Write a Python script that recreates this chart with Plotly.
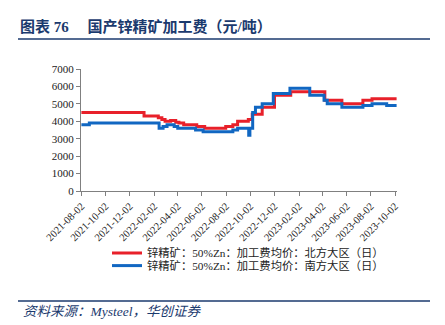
import plotly.graph_objects as go

# Change points of the step series (value holds until the next date)
north_dates = ["2021-08-02", "2022-01-07", "2022-02-12", "2022-02-21", "2022-03-01", "2022-03-15",
               "2022-03-28", "2022-04-05", "2022-04-17", "2022-05-20", "2022-06-09", "2022-08-01",
               "2022-08-19", "2022-08-31", "2022-09-27", "2022-10-07", "2022-11-01", "2022-12-02",
               "2023-01-12", "2023-04-08", "2023-05-21", "2023-07-13", "2023-08-05", "2023-10-06"]
north_vals = [4500, 4300, 4200, 4100, 4000, 4050,
              3950, 3900, 3800, 3700, 3600, 3700,
              3800, 4000, 4100, 4400, 4800, 5500,
              5700, 5200, 5000, 5200, 5300, 5300]

south_dates = ["2021-08-02", "2021-08-22", "2022-02-14", "2022-02-24", "2022-03-06", "2022-03-24",
               "2022-04-02", "2022-05-17", "2022-06-05", "2022-08-19", "2022-08-31", "2022-09-28",
               "2022-10-01", "2022-10-08", "2022-10-15", "2022-11-01", "2022-11-29", "2023-01-10",
               "2023-03-01", "2023-04-06", "2023-04-14", "2023-05-21", "2023-07-13", "2023-08-05",
               "2023-09-11", "2023-10-06"]
south_vals = [3800, 3900, 3600, 3700, 3800, 3700,
              3600, 3500, 3400, 3500, 3600, 3200,
              3600, 4500, 4800, 5000, 5600, 5900,
              5500, 5200, 5000, 4800, 4900, 5000,
              4900, 4900]

tick_dates = ["2021-08-02", "2021-10-02", "2021-12-02", "2022-02-02", "2022-04-02", "2022-06-02",
              "2022-08-02", "2022-10-02", "2022-12-02", "2023-02-02", "2023-04-02", "2023-06-02",
              "2023-08-02", "2023-10-02"]

name_north = "锌精矿：50%Zn：加工费均价：北方大区（日）"
name_south = "锌精矿：50%Zn：加工费均价：南方大区（日）"
title_text = "<b>图表 76　 国产锌精矿加工费（元/吨）</b>"
source_text = "<i>资料来源：Mysteel，华创证券</i>"

RED = "#E8202A"
BLUE = "#1167C2"
NAVY = "#1B3A6E"
SERIF_CJK = "Liberation Serif, Noto Sans CJK SC"

fig = go.Figure()
fig.add_trace(go.Scatter(x=north_dates, y=north_vals, mode="lines", name=name_north,
                         line=dict(color=RED, width=3, shape="hv"), legend="legend"))
fig.add_trace(go.Scatter(x=south_dates, y=south_vals, mode="lines", name=name_south,
                         line=dict(color=BLUE, width=3, shape="hv"), legend="legend2"))

W, H = 445, 325
L, R, T, B = 81, 48, 69, 133.5
pw = W - L - R
ph = H - T - B

def px_x(x):
    return (x - L) / pw

def px_y(y):
    return (H - B - y) / ph

legend_font = dict(family=SERIF_CJK, size=11.3, color="#222")
fig.update_layout(
    width=W, height=H,
    margin=dict(l=L, r=R, t=T, b=B, pad=0),
    paper_bgcolor="white", plot_bgcolor="white",
    showlegend=True,
    legend=dict(x=px_x(107), y=px_y(253.8), xanchor="left", yanchor="middle",
                font=legend_font, bgcolor="rgba(0,0,0,0)", itemwidth=30),
    legend2=dict(x=px_x(107), y=px_y(266.4), xanchor="left", yanchor="middle",
                 font=legend_font, bgcolor="rgba(0,0,0,0)", itemwidth=30),
    xaxis=dict(type="date", range=["2021-08-01", "2023-10-07"], tickvals=tick_dates,
               ticktext=tick_dates, tickangle=-45, showgrid=False, zeroline=False,
               showline=True, linecolor="#808080", linewidth=1, ticks="outside",
               ticklen=4, tickcolor="#808080",
               tickfont=dict(family="Liberation Serif", size=10.5, color="#222")),
    yaxis=dict(range=[0, 7000], dtick=1000, showgrid=False, zeroline=False,
               showline=True, linecolor="#808080", linewidth=1, ticks="outside",
               ticklen=4, tickcolor="#808080",
               tickfont=dict(family="Liberation Serif", size=11, color="#222")),
)

fig.add_annotation(text=title_text, xref="paper", yref="paper", x=px_x(18), y=px_y(26),
                   xanchor="left", yanchor="middle", showarrow=False,
                   font=dict(family=SERIF_CJK, size=15, color=NAVY))
fig.add_annotation(text=source_text, xref="paper", yref="paper", x=px_x(21), y=px_y(312),
                   xanchor="left", yanchor="middle", showarrow=False,
                   font=dict(family=SERIF_CJK, size=13.5, color=NAVY))
fig.add_shape(type="line", xref="paper", yref="paper", x0=px_x(18), x1=px_x(430),
              y0=px_y(39), y1=px_y(39), line=dict(color=NAVY, width=1.5))
fig.add_shape(type="line", xref="paper", yref="paper", x0=px_x(18), x1=px_x(430),
              y0=px_y(302), y1=px_y(302), line=dict(color=NAVY, width=1.5))

fig.write_html("out.html")
